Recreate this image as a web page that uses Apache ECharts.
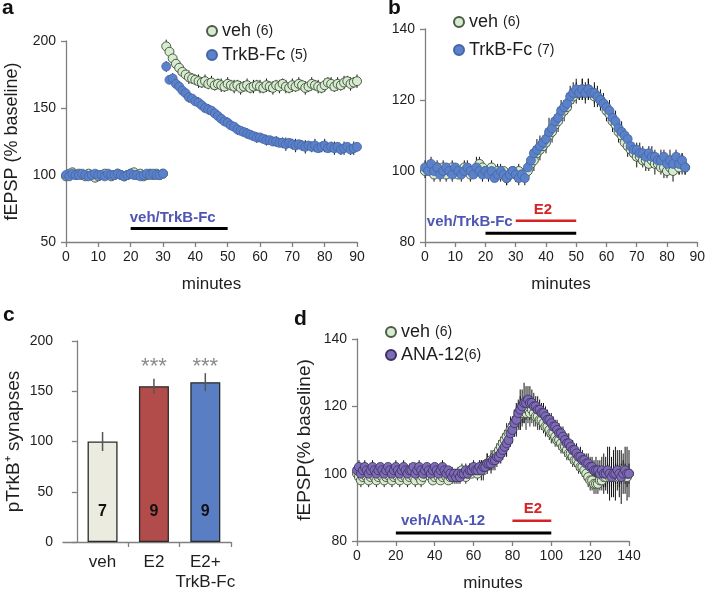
<!DOCTYPE html>
<html><head><meta charset="utf-8">
<script src="https://cdn.jsdelivr.net/npm/echarts@6/dist/echarts.min.js"></script>
<style>html,body{margin:0;padding:0;background:#fff}#c{width:708px;height:593px}</style>
</head><body><div id="c"></div>
<script>
// ---------- Panel a (one sample per minute, 0..90) ----------
const aVeh = [99,101,102,100,101,100,99,101,100,98,99,100,101,100,99,100,101,100,99,100,101,102,100,101,99,100,101,100,101,100,101,
  196,192,187,183,180,177,175,173,172,171,170,169,170,168,169,167,168,167,166,168,167,166,167,165,166,167,165,166,167,166,
  165,167,166,165,167,166,168,166,165,167,166,168,167,165,166,168,167,166,165,167,169,168,166,168,167,169,170,168,169,170];
const aVehErr = [2,1,2,1,2,2,1,2,1,2,2,1,2,1,2,2,1,2,1,2,2,1,2,1,2,2,1,2,1,2,2,
  5,5,4,4,5,4,4,5,4,4,5,4,5,4,5,4,4,5,4,5,4,5,4,5,4,5,4,5,4,5,
  4,5,4,5,4,5,4,5,4,5,4,5,4,5,4,5,4,5,4,5,4,5,4,5,4,5,4,5,4,5];
const aTrk = [100,99,101,100,100,101,100,99,100,101,100,100,99,101,100,100,101,100,99,100,101,100,100,99,100,101,100,101,100,100,101,
  181,171,172,168,166,163,161,158,157,155,154,152,150,149,148,146,144,142,140,139,137,136,134,133,132,131,130,129,128,128,
  127,126,126,125,125,124,124,123,124,123,122,123,122,121,122,121,122,120,121,122,120,121,120,121,119,120,121,119,120,121];
const aTrkErr = [2,1,2,1,2,2,1,2,1,2,2,1,2,1,2,2,1,2,1,2,2,1,2,1,2,2,1,2,1,2,2,
  4,3,4,3,4,3,3,4,3,3,4,3,3,4,3,3,4,3,3,4,3,3,4,3,3,4,3,3,4,3,
  3,4,3,3,4,3,4,5,3,4,5,3,4,5,3,4,5,3,4,5,3,4,5,3,4,5,3,4,5,3];
const aDrugBar = [[20, 50, 60]];
const aTexts = [[33, 68, 'veh/TrkB-Fc']];

// ---------- Panel b (0..86) ----------
const bVeh = [100,101,100,99,101,100,101,99,100,101,100,
  99,100,101,100,99,100,100,102,101,100,
  100,101,99,100,99,100,98,99,100,99,100,99,99,
  100,102,103,105,106,107,108,110,111,113,114,116,117,118,120,121,122,122,123,122,
  123,122,121,121,120,119,117,116,114,113,111,110,108,107,106,105,104,104,103,103,
  102,103,102,102,101,101,100,101,100,102,101,102,101];
const bVehErr = [2,2,1,2,2,1,2,2,1,2,2,1,2,2,1,2,2,1,2,2,1,2,2,1,2,2,1,2,2,1,2,2,1,2,
  2,2,3,2,3,2,3,2,3,2,3,2,3,2,3,2,3,2,3,2,3,2,3,2,3,2,3,2,3,2,3,2,2,3,2,2,3,2,2,3,
  2,2,3,2,2,3,2,2,3,2,2,3,2];
const bTrk = [101,100,102,100,101,99,100,101,100,99,101,
  100,99,100,101,100,99,101,100,99,100,
  99,100,98,99,100,99,98,99,100,99,98,99,98,
  101,103,105,106,107,108,109,111,112,114,115,117,118,119,121,122,123,122,123,122,
  123,122,122,121,120,119,118,117,115,114,112,111,110,109,107,106,106,105,105,104,
  105,104,104,103,103,104,102,103,102,104,102,103,101];
const bTrkErr = [2,1,2,2,1,2,2,1,2,2,1,2,2,1,2,2,1,3,2,2,1,2,2,1,2,2,1,2,2,1,2,2,1,2,
  2,3,2,3,3,2,3,4,3,2,3,3,2,3,3,3,3,2,3,3,3,2,3,3,2,3,2,3,2,3,2,3,2,2,3,2,2,3,2,2,
  2,3,2,2,3,2,2,3,2,2,3,2,2];
const bDrugBar = [[20, 50, 82.5]];
const bE2Bar = [[30, 50, 86]];
const bTexts = [[29, 85.6, 'veh/TrkB-Fc']];
const bE2Text = [[39, 89, 'E2']];

// ---------- Panel c ----------
const cCats = ['veh', 'E2', 'E2+\nTrkB-Fc'];
const cVals = [100, 155, 159];
const cErr = [9.5, 7.5, 9];
const cN = ['7', '9', '9'];
const cSig = ['', '***', '***'];

// ---------- Panel d (0..140) ----------
const dVeh = [100,99,98,99,100,99,98,99,100,99,98,99,100,99,98,99,100,99,98,99,100,
  99,98,99,100,99,98,99,100,99,98,100,99,98,99,100,101,100,99,98,99,
  100,99,98,99,100,99,98,99,100,99,100,99,100,101,100,99,100,101,100,101,
  101,100,101,102,101,102,103,103,104,104,105,106,107,108,109,110,111,112,113,114,
  115,116,117,118,118,119,118,119,118,119,118,117,117,116,116,115,114,114,113,112,
  112,111,110,110,109,108,108,107,106,106,105,104,104,103,102,102,101,100,99,98,
  98,97,97,97,98,98,99,99,100,99,100,99,100,100,99,100,101,100,99,100];
const dVehErr = [2,2,2,1,2,2,2,1,2,2,2,1,2,2,2,1,2,2,2,1,2,
  2,2,1,2,2,2,1,2,2,2,1,2,2,2,1,2,2,2,1,2,
  2,2,1,2,2,2,1,2,2,2,1,2,2,2,1,2,2,2,1,2,
  2,2,2,2,3,2,3,2,3,3,2,3,3,3,3,3,4,3,4,3,
  4,4,4,5,4,4,5,4,4,4,4,3,4,3,3,3,3,3,3,3,
  3,3,2,3,3,2,3,3,2,3,3,2,3,3,2,3,3,2,3,3,
  3,3,3,3,3,3,3,3,3,3,3,3,3,3,3,3,3,3,3,3];
const dAna = [101,102,100,101,102,101,100,101,102,101,100,101,102,101,100,101,102,101,100,101,102,
  101,100,101,102,101,100,101,101,102,100,101,102,101,100,101,102,101,100,101,102,
  101,100,101,102,101,100,101,100,99,100,99,100,99,100,100,101,100,101,101,102,
  101,101,102,101,102,102,103,103,103,104,104,105,105,106,107,108,109,110,112,113,
  115,116,118,119,120,121,121,122,121,121,120,120,119,119,118,118,117,116,116,115,
  114,114,113,112,112,111,110,109,109,108,107,107,106,105,105,104,104,103,103,102,
  102,101,101,101,100,101,100,100,101,100,99,100,100,101,100,99,100,101,100,100];
const dAnaErr = [2,2,1,2,2,1,2,2,2,1,2,2,1,2,2,2,1,2,2,1,2,
  2,1,2,2,2,1,2,2,1,2,2,2,1,2,2,1,2,2,2,1,
  2,2,1,2,2,2,1,2,2,1,2,2,2,1,2,2,1,2,2,2,
  2,2,2,3,2,2,3,2,3,2,3,3,2,3,3,3,4,3,4,4,
  4,5,4,6,5,6,5,4,5,4,4,3,4,3,3,3,3,3,2,3,
  3,2,3,3,2,3,2,3,3,2,3,2,3,2,3,3,2,3,3,3,
  3,3,4,3,4,4,6,5,7,8,6,7,8,6,7,8,6,7,8,7];
const dDrugBar = [[20, 100, 82.4]];
const dE2Bar = [[80, 100, 86]];
const dTexts = [[44.3, 85.9, 'veh/ANA-12']];
const dE2Text = [[90.6, 89.5, 'E2']];

// ---------- helpers ----------
const FONT = "'Liberation Sans', Arial, Helvetica, sans-serif";
const AX = '#7f7f7f';
const TXT = '#1e1e1e';
const BLUE_TXT = '#4e55b3';
const RED = '#d82222';

function pts(arr) { return arr.map((v, i) => [i, v]); }
function errPts(arr, e) { return arr.map((v, i) => [i, v - e[i], v + e[i]]); }

function errSeries(gi, data, color, width, z) {
  return {
    type: 'custom', xAxisIndex: gi, yAxisIndex: gi, silent: true, clip: false, z: z || 2,
    data: data, encode: { x: 0, y: [1, 2] },
    renderItem: (p, api) => {
      const a = api.coord([api.value(0), api.value(1)]);
      const b = api.coord([api.value(0), api.value(2)]);
      return { type: 'line', shape: { x1: a[0], y1: a[1], x2: b[0], y2: b[1] },
        style: { stroke: color, lineWidth: width } };
    }
  };
}
function segSeries(gi, segs, color, width) {
  return {
    type: 'custom', xAxisIndex: gi, yAxisIndex: gi, silent: true, clip: false, z: 10,
    data: segs, encode: { x: [0, 1], y: 2 },
    renderItem: (p, api) => {
      const a = api.coord([api.value(0), api.value(2)]);
      const b = api.coord([api.value(1), api.value(2)]);
      return { type: 'line', shape: { x1: a[0], y1: a[1], x2: b[0], y2: b[1] },
        style: { stroke: color, lineWidth: width } };
    }
  };
}
function textSeries(gi, items, color, font, align) {
  return {
    type: 'custom', xAxisIndex: gi, yAxisIndex: gi, silent: true, clip: false, z: 10,
    data: items.map(d => [d[0], d[1]]), encode: { x: 0, y: 1 },
    renderItem: (p, api) => {
      const c = api.coord([api.value(0), api.value(1)]);
      return { type: 'text', x: c[0], y: c[1], z2: 100,
        style: { text: items[p.dataIndex][2], fill: color, font: font,
          align: align || 'center', verticalAlign: 'middle' } };
    }
  };
}
function scatter(gi, name, arr, fill, border, bw) {
  return {
    type: 'scatter', name: name, xAxisIndex: gi, yAxisIndex: gi, clip: false,
    data: pts(arr), symbol: 'circle', symbolSize: 9,
    itemStyle: { color: fill, borderColor: border, borderWidth: bw, opacity: 1 },
    emphasis: { disabled: true }
  };
}
function xAx(gi, min, max, interval, name, extra) {
  return Object.assign({
    gridIndex: gi, type: 'value', min: min, max: max, interval: interval,
    name: name, nameLocation: 'middle', nameGap: 34,
    nameTextStyle: { fontFamily: FONT, fontSize: 17, color: TXT },
    axisLine: { show: true, lineStyle: { color: AX, width: 1.3 } },
    axisTick: { show: true, length: 5, lineStyle: { color: AX, width: 1.3 } },
    axisLabel: { fontFamily: FONT, fontSize: 14, color: TXT, margin: 8 },
    splitLine: { show: false }
  }, extra || {});
}
function yAx(gi, min, max, interval, name, gap, fs) {
  return {
    gridIndex: gi, type: 'value', min: min, max: max, interval: interval,
    name: name, nameLocation: 'middle', nameGap: gap,
    nameTextStyle: { fontFamily: FONT, fontSize: fs || 18, color: TXT },
    axisLine: { show: true, lineStyle: { color: AX, width: 1.3 } },
    axisTick: { show: true, length: 5, lineStyle: { color: AX, width: 1.3 } },
    axisLabel: { fontFamily: FONT, fontSize: 14, color: TXT, margin: 10 },
    splitLine: { show: false }
  };
}
function legendFmt(name) {
  const i = name.lastIndexOf('(');
  return '{m|' + name.slice(0, i) + '}{n|' + name.slice(i) + '}';
}
function legend(names, left, top, gap) {
  return {
    data: names, orient: 'vertical', left: left, top: top, itemGap: gap,
    itemWidth: 10, itemHeight: 10, icon: 'circle', padding: 0, selectedMode: false,
    formatter: legendFmt,
    textStyle: { fontFamily: FONT, color: TXT, padding: [0, 0, 0, 0],
      rich: { m: { fontFamily: FONT, fontSize: 18, color: TXT, lineHeight: 20 },
              n: { fontFamily: FONT, fontSize: 14, color: TXT, lineHeight: 20 } } }
  };
}

const VEH_FILL = '#d6ebcf', VEH_BORDER = '#4b5b45';
const TRK_FILL = '#5b81c9', TRK_BORDER = '#4466a8';
const ANA_FILL = '#7e6bb6', ANA_BORDER = '#3b2f5f';
const BAR_COLORS = ['#ecebdf', '#b24c4a', '#5a7ec3'];

const chart = echarts.init(document.getElementById('c'));
chart.setOption({
  animation: false,
  backgroundColor: '#ffffff',
  textStyle: { fontFamily: FONT },
  grid: [
    { left: 66, top: 41, width: 291, height: 201 },
    { left: 425, top: 29, width: 273, height: 213 },
    { left: 63, top: 341, width: 168, height: 201 },
    { left: 357, top: 339, width: 272, height: 203 }
  ],
  xAxis: [
    xAx(0, 0, 90, 10, 'minutes'),
    xAx(1, 0, 90, 10, 'minutes'),
    xAx(2, -0.27, 3, null, '', {
      interval: undefined,
      axisTick: { show: true, length: 5, customValues: [1, 2, 3], lineStyle: { color: AX, width: 1.3 } },
      axisLabel: { fontFamily: FONT, fontSize: 17, color: TXT, margin: 10, lineHeight: 20,
        customValues: cCats.map((c, i) => i + 0.5),
        formatter: v => cCats[Math.round(v - 0.5)] }
    }),
    xAx(3, 0, 140, 20, 'minutes')
  ],
  yAxis: [
    yAx(0, 50, 200, 50, 'fEPSP (% baseline)', 45),
    yAx(1, 80, 140, 20, '', 40),
    yAx(2, 0, 200, 50, 'pTrkB\u207A synapses', 40, 19),
    yAx(3, 80, 140, 20, 'fEPSP(% baseline)', 43, 19)
  ],
  legend: [
    legend(['veh (6)', 'TrkB-Fc (5)'], 206, 22, 6),
    legend(['veh (6)', 'TrkB-Fc (7)'], 453, 13, 10),
    legend(['veh (6)', 'ANA-12(6)'], 385, 323, 5)
  ],
  graphic: [
    { type: 'text', x: 2, y: -2, style: { text: 'a', font: 'bold 21px ' + FONT, fill: '#111' } },
    { type: 'text', x: 388, y: -2, style: { text: 'b', font: 'bold 21px ' + FONT, fill: '#111' } },
    { type: 'text', x: 3, y: 305, style: { text: 'c', font: 'bold 21px ' + FONT, fill: '#111' } },
    { type: 'text', x: 294, y: 309, style: { text: 'd', font: 'bold 21px ' + FONT, fill: '#111' } }
  ],
  series: [
    // panel a
    errSeries(0, errPts(aVeh, aVehErr), '#111', 1),
    scatter(0, 'veh (6)', aVeh, VEH_FILL, VEH_BORDER, 1),
    errSeries(0, errPts(aTrk, aTrkErr), '#111', 1),
    scatter(0, 'TrkB-Fc (5)', aTrk, TRK_FILL, TRK_BORDER, 0.8),
    segSeries(0, aDrugBar, '#000', 3),
    textSeries(0, aTexts, BLUE_TXT, 'bold 15px ' + FONT),
    // panel b
    errSeries(1, errPts(bVeh, bVehErr), '#111', 1),
    scatter(1, 'veh (6)', bVeh, VEH_FILL, VEH_BORDER, 1),
    errSeries(1, errPts(bTrk, bTrkErr), '#111', 1),
    scatter(1, 'TrkB-Fc (7)', bTrk, TRK_FILL, TRK_BORDER, 0.8),
    segSeries(1, bDrugBar, '#000', 3),
    segSeries(1, bE2Bar, RED, 2.5),
    textSeries(1, bTexts, BLUE_TXT, 'bold 15px ' + FONT, 'right'),
    textSeries(1, bE2Text, RED, 'bold 15px ' + FONT),
    // panel c
    {
      type: 'bar', xAxisIndex: 2, yAxisIndex: 2, barWidth: 30, silent: true, z: 2,
      data: cVals.map((v, i) => ({ value: [i + 0.5, v],
        itemStyle: { color: BAR_COLORS[i], borderColor: '#2a2a2a', borderWidth: 1.3 } }))
    },
    errSeries(2, cVals.map((v, i) => [i + 0.5, v - cErr[i], v + cErr[i]]), '#555', 1.5, 8),
    textSeries(2, cN.map((t, i) => [i + 0.5, 30, t]), '#111', 'bold 16px ' + FONT),
    textSeries(2, cSig.map((t, i) => [i + 0.5, 174, t]), '#8a8a8a', '22px ' + FONT),
    // panel d
    errSeries(3, errPts(dVeh, dVehErr), '#222', 1),
    scatter(3, 'veh (6)', dVeh, VEH_FILL, VEH_BORDER, 1),
    errSeries(3, errPts(dAna, dAnaErr), '#111', 1),
    scatter(3, 'ANA-12(6)', dAna, ANA_FILL, ANA_BORDER, 0.8),
    segSeries(3, dDrugBar, '#000', 3),
    segSeries(3, dE2Bar, RED, 2.5),
    textSeries(3, dTexts, BLUE_TXT, 'bold 15px ' + FONT),
    textSeries(3, dE2Text, RED, 'bold 15px ' + FONT)
  ]
});
</script>
</body></html>
